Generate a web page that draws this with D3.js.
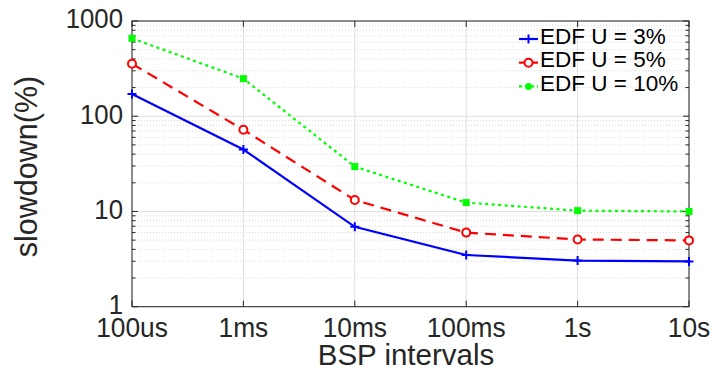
<!DOCTYPE html>
<html><head><meta charset="utf-8">
<script src="https://cdn.jsdelivr.net/npm/d3@7"></script>
<style>body{margin:0;background:#fff}svg{display:block}</style>
</head><body>
<script>
const categories = ["100us","1ms","10ms","100ms","1s","10s"];
const yTicks = [1,10,100,1000];
const seriesNames = ["EDF U = 3%","EDF U = 5%","EDF U = 10%"];
const edf3  = [171, 44.7, 6.9, 3.49, 3.05, 2.99];
const edf5  = [356, 72, 13.2, 6.0, 5.08, 4.97];
const edf10 = [658, 248, 29.6, 12.4, 10.2, 10.0];

const W=715,H=375;
const L=132,R=689,T=21,B=306.7;
const svg=d3.select("body").append("svg").attr("width",W).attr("height",H);
const x=d3.scalePoint().domain(categories).range([L,R]);
const y=d3.scaleLog().domain([1,1000]).range([B,T]);
const font="'Liberation Sans', Arial, Helvetica, sans-serif";

// minor grid
const minor=[];
for(let d=1;d<1000;d*=10) for(let k=2;k<=9;k++) minor.push(d*k);
const g=svg.append("g");
g.selectAll(".mg").data(minor).join("line")
 .attr("x1",L).attr("x2",R).attr("y1",d=>y(d)).attr("y2",d=>y(d))
 .attr("stroke","#d9d9d9").attr("stroke-width",1).attr("stroke-dasharray","1,2");
g.selectAll(".Mg").data(yTicks).join("line")
 .attr("x1",L).attr("x2",R).attr("y1",d=>y(d)).attr("y2",d=>y(d))
 .attr("stroke","#dedede").attr("stroke-width",1);
g.selectAll(".xg").data(categories).join("line")
 .attr("x1",d=>x(d)).attr("x2",d=>x(d)).attr("y1",T).attr("y2",B)
 .attr("stroke","#dedede").attr("stroke-width",1);

// axes box + ticks
const ax=svg.append("g").attr("stroke","#262626").attr("stroke-width",1);
ax.append("rect").attr("x",L).attr("y",T).attr("width",R-L).attr("height",B-T).attr("fill","none");
yTicks.forEach(v=>{
  ax.append("line").attr("x1",L).attr("x2",L+6).attr("y1",y(v)).attr("y2",y(v));
  ax.append("line").attr("x1",R).attr("x2",R-6).attr("y1",y(v)).attr("y2",y(v));
});
minor.forEach(v=>{
  ax.append("line").attr("x1",L).attr("x2",L+3.5).attr("y1",y(v)).attr("y2",y(v));
  ax.append("line").attr("x1",R).attr("x2",R-3.5).attr("y1",y(v)).attr("y2",y(v));
});
categories.forEach(c=>{
  ax.append("line").attr("x1",x(c)).attr("x2",x(c)).attr("y1",B).attr("y2",B-6);
  ax.append("line").attr("x1",x(c)).attr("x2",x(c)).attr("y1",T).attr("y2",T+6);
});

// tick labels
svg.append("g").selectAll("text").data(yTicks).join("text")
 .attr("x",123).attr("y",d=>y(d)+7.5).attr("text-anchor","end")
 .attr("font-family",font).attr("font-size",28).attr("fill","#262626")
 .attr("transform",`translate(${123*0.08},0) scale(0.92,1)`)
 .text(d=>d3.format("d")(d));
svg.append("g").selectAll("text").data(categories).join("text")
 .attr("x",d=>x(d)/0.94).attr("y",337).attr("text-anchor","middle")
 .attr("transform","scale(0.94,1)")
 .attr("font-family",font).attr("font-size",28).attr("fill","#262626")
 .text(d=>d);

// axis labels
svg.append("text").attr("x",406).attr("y",365).attr("text-anchor","middle")
 .attr("font-family",font).attr("font-size",29.5).attr("fill","#262626").text("BSP intervals");
svg.append("text").attr("transform","rotate(-90)").attr("x",-166.5).attr("y",37)
 .attr("text-anchor","middle").attr("font-family",font).attr("font-size",30.5)
 .attr("fill","#262626").text("slowdown(%)");

// series
const series=[
 {name:seriesNames[0],vals:edf3,color:"#0000ff",dash:null,marker:"plus"},
 {name:seriesNames[1],vals:edf5,color:"#ff0000",dash:"11,7",marker:"circle"},
 {name:seriesNames[2],vals:edf10,color:"#00ff00",dash:"3,3.5",marker:"square"}
];
const line=d3.line().x((d,i)=>x(categories[i])).y(d=>y(d));
function drawMarker(sel,type,color,cx,cy,legend){
  if(type==="plus"){
    sel.append("path").attr("d",`M${cx-4.5},${cy}H${cx+4.5}M${cx},${cy-4.5}V${cy+4.5}`)
      .attr("stroke",color).attr("stroke-width",2).attr("fill","none");
  }else if(type==="circle"){
    sel.append("circle").attr("cx",cx).attr("cy",cy).attr("r",4).attr("fill","#fff")
      .attr("stroke",color).attr("stroke-width",2);
  }else{
    if(legend) sel.append("circle").attr("cx",cx).attr("cy",cy).attr("r",3.5).attr("fill",color);
    else sel.append("rect").attr("x",cx-3.5).attr("y",cy-3.5).attr("width",7).attr("height",7).attr("fill",color);
  }
}
series.forEach(s=>{
  const p=svg.append("path").datum(s.vals).attr("d",line).attr("fill","none")
    .attr("stroke",s.color).attr("stroke-width",2.2);
  if(s.dash) p.attr("stroke-dasharray",s.dash);
  const mg=svg.append("g");
  s.vals.forEach((v,i)=>drawMarker(mg,s.marker,s.color,x(categories[i]),y(v),false));
});

// legend
const lg=svg.append("g");
series.forEach((s,i)=>{
  const ly=39+i*23.7;
  const l=lg.append("line").attr("x1",519).attr("x2",538).attr("y1",ly).attr("y2",ly)
    .attr("stroke",s.color).attr("stroke-width",2.2);
  if(s.dash) l.attr("stroke-dasharray",s.marker==="square"?"3,3":"12,0");
  drawMarker(lg,s.marker,s.color,528.5,ly,true);
  lg.append("text").attr("x",540).attr("y",ly+4.7).attr("font-family",font)
    .attr("font-size",22.5).attr("fill","#000").text(s.name);
});
</script>
</body></html>
